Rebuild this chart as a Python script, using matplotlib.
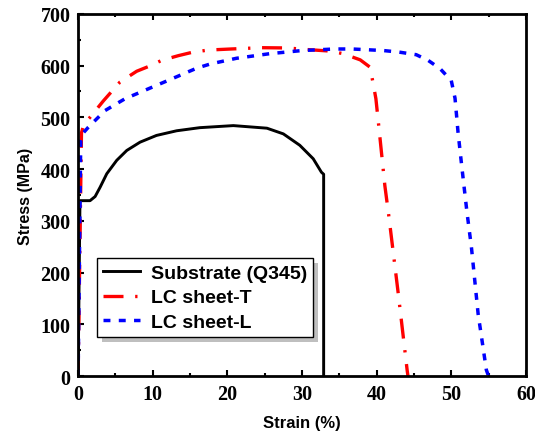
import numpy as np
import matplotlib
matplotlib.use("Agg")
import matplotlib.pyplot as plt
from matplotlib.ticker import MultipleLocator
from matplotlib.patches import Rectangle
from matplotlib.transforms import IdentityTransform

# data
sub_strain = [0, 0.25, 1.6, 2.28, 2.95, 3.84, 5.18, 6.52, 8.3, 10.5, 13.2, 16.3, 20.8, 25.3, 27.5, 29.7, 31.5, 32.6, 32.9, 32.9]
sub_stress = [0, 339, 339, 347, 365, 391, 417, 436, 452, 465, 474, 480, 484, 479, 468, 446, 420, 394, 390, 0]

lct_strain = [0, 0.45, 0.8, 1.6, 3.4, 5.6, 7.85, 9.4, 11.2, 13.4, 15.4, 17.5, 20.5, 24.6, 28.0, 30.6, 33.7, 35.5, 37.8, 39.1,
              39.5, 39.9, 40.3, 41.1, 41.6, 42.9, 44.1, 44.2]
lct_stress = [0, 470, 488, 500, 532, 568, 589, 598, 610, 619, 626, 630, 632, 634.5, 634, 631, 628, 623, 611, 597,
              568, 536, 481, 368, 313, 159, 10, 0]

lcl_strain = [0, 0.35, 0.7, 1.38, 3.6, 6.3, 9.4, 12.5, 15.9, 17.7, 21.2, 25.7, 30.0, 34.4, 36.7, 40.9, 43.0, 45.3, 46.9,
              48.5, 50.0, 50.5, 50.7, 50.9, 51.4, 52.1, 52.7, 53.6, 54.7, 55.0]
lcl_stress = [0, 455, 470, 481, 513, 536, 555, 574, 595, 603, 614, 623, 629, 632, 632, 629, 626, 621, 610,
              594, 571, 537, 505, 472, 406, 317, 249, 120, 12, 0]

labels = ["Substrate (Q345)", "LC sheet-T", "LC sheet-L"]

fig = plt.figure(figsize=(5.35, 4.35), dpi=100)
ax = fig.add_axes([0.146, 0.133, 0.837, 0.833])

ax.plot(sub_strain, sub_stress, color="black", lw=2.1, label=labels[0])
ax.plot(lct_strain, lct_stress, color="red", lw=2.4, dashes=(6, 3.5, 0.7, 3.5), label=labels[1])
ax.plot(lcl_strain, lcl_stress, color="blue", lw=2.5, dashes=(2.0, 2.4), label=labels[2])

ax.set_xlim(0, 60)
ax.set_ylim(0, 700)
ax.xaxis.set_major_locator(MultipleLocator(10))
ax.xaxis.set_minor_locator(MultipleLocator(5))
ax.yaxis.set_major_locator(MultipleLocator(100))
ax.yaxis.set_minor_locator(MultipleLocator(50))
ax.tick_params(which="both", direction="in", top=True, right=False, width=1.5)
ax.tick_params(which="major", length=4, pad=5.5)
ax.tick_params(which="minor", length=2.2)
for sp in ax.spines.values():
    sp.set_linewidth(2.0)

for lab in ax.get_xticklabels() + ax.get_yticklabels():
    lab.set_fontfamily("Liberation Serif")
    lab.set_fontweight("bold")
    lab.set_fontsize(14.5)

ax.set_xlabel("Strain (%)", fontfamily="Liberation Sans", fontweight="bold", fontsize=12, labelpad=8)
ax.set_ylabel("Stress (MPa)", fontfamily="Liberation Sans", fontweight="bold", fontsize=11.5, labelpad=5)

leg = ax.legend(loc="lower left", bbox_to_anchor=(0.042, 0.108), fancybox=False,
                edgecolor="black", framealpha=1, handlelength=1.9,
                prop={"family": "Liberation Sans", "weight": "bold", "size": 14},
                borderpad=0.3, labelspacing=0.37, handletextpad=0.6, borderaxespad=0)
leg.get_frame().set_linewidth(1.0)

# grey drop shadow behind the legend box
fig.canvas.draw()
bb = leg.get_frame().get_window_extent()
sh = Rectangle((bb.x0 + 5, bb.y0 - 5), bb.width, bb.height, transform=IdentityTransform(),
               facecolor="0.75", edgecolor="none", zorder=4.9, clip_on=False)
ax.add_patch(sh)

fig.savefig("out.png", dpi=100)
